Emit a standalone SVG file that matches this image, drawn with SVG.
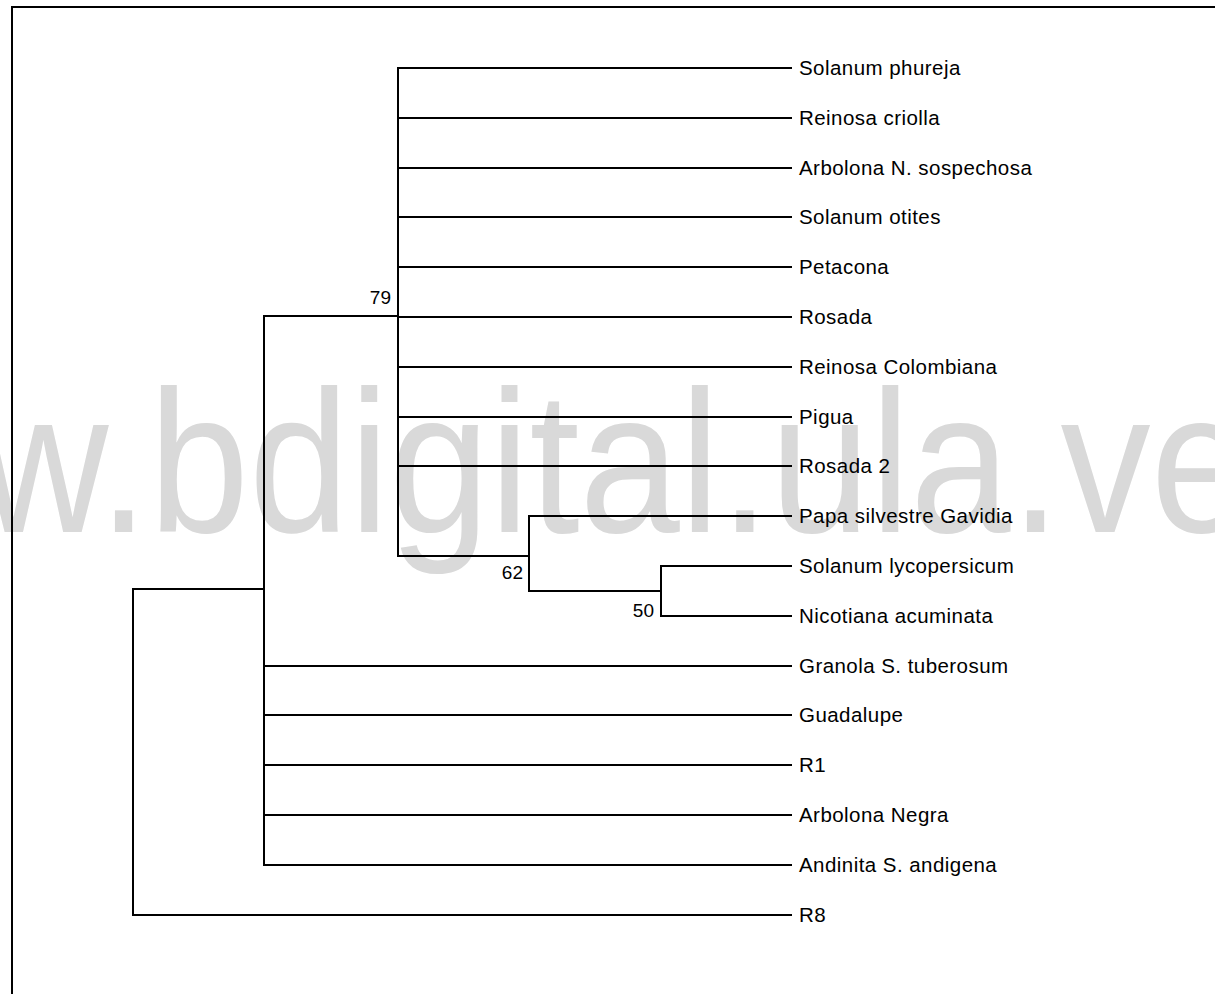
<svg xmlns="http://www.w3.org/2000/svg" width="1215" height="994" viewBox="0 0 1215 994">
<style>
.wm{font-family:"Liberation Sans",Arial,sans-serif;font-size:175px;fill:#d9d9d9}
.lbl{font-family:"Liberation Sans",Arial,sans-serif;font-size:20.5px;letter-spacing:0.45px;fill:#000}
.num{font-family:"Liberation Sans",Arial,sans-serif;font-size:19px;fill:#000;text-anchor:end}
.ln{stroke:#000;stroke-width:2;fill:none;stroke-linecap:square}
</style>
<rect width="1215" height="994" fill="#fff"/>
<text class="wm" transform="translate(-282,532) scale(1.03,1.155)">www.bdigital.ula.ve</text>
<g id="frame"><path class="ln" d="M12,994 V7 H1215"/></g>
<g id="connectors">
<path class="ln" d="M133,589 V915 M133,589 H264 M264,316 V865 M264,316 H398 M398,68 V556 M398,556 H529 M529,516 V591 M529,591 H661 M661,566 V616"/>
<path class="ln" d="M398,68 H791 M398,118 H791 M398,168 H791 M398,217 H791 M398,267 H791 M398,317 H791 M398,367 H791 M398,417 H791 M398,466 H791 M529,516 H791 M661,566 H791 M661,616 H791 M264,666 H791 M264,715 H791 M264,765 H791 M264,815 H791 M264,865 H791 M133,915 H791"/>
</g>
<g id="n79"><text class="num" x="391" y="304">79</text></g>
<g id="n62"><text class="num" x="523" y="579">62</text></g>
<g id="n50"><text class="num" x="654" y="617">50</text></g>
<g id="leaf1"><text class="lbl" x="799" y="75">Solanum phureja</text></g>
<g id="leaf2"><text class="lbl" x="799" y="125">Reinosa criolla</text></g>
<g id="leaf3"><text class="lbl" x="799" y="175">Arbolona N. sospechosa</text></g>
<g id="leaf4"><text class="lbl" x="799" y="224">Solanum otites</text></g>
<g id="leaf5"><text class="lbl" x="799" y="274">Petacona</text></g>
<g id="leaf6"><text class="lbl" x="799" y="324">Rosada</text></g>
<g id="leaf7"><text class="lbl" x="799" y="374">Reinosa Colombiana</text></g>
<g id="leaf8"><text class="lbl" x="799" y="424">Pigua</text></g>
<g id="leaf9"><text class="lbl" x="799" y="473">Rosada 2</text></g>
<g id="leaf10"><text class="lbl" x="799" y="523">Papa silvestre Gavidia</text></g>
<g id="leaf11"><text class="lbl" x="799" y="573">Solanum lycopersicum</text></g>
<g id="leaf12"><text class="lbl" x="799" y="623">Nicotiana acuminata</text></g>
<g id="leaf13"><text class="lbl" x="799" y="673">Granola S. tuberosum</text></g>
<g id="leaf14"><text class="lbl" x="799" y="722">Guadalupe</text></g>
<g id="leaf15"><text class="lbl" x="799" y="772">R1</text></g>
<g id="leaf16"><text class="lbl" x="799" y="822">Arbolona Negra</text></g>
<g id="leaf17"><text class="lbl" x="799" y="872">Andinita S. andigena</text></g>
<g id="leaf18"><text class="lbl" x="799" y="922">R8</text></g>
</svg>
